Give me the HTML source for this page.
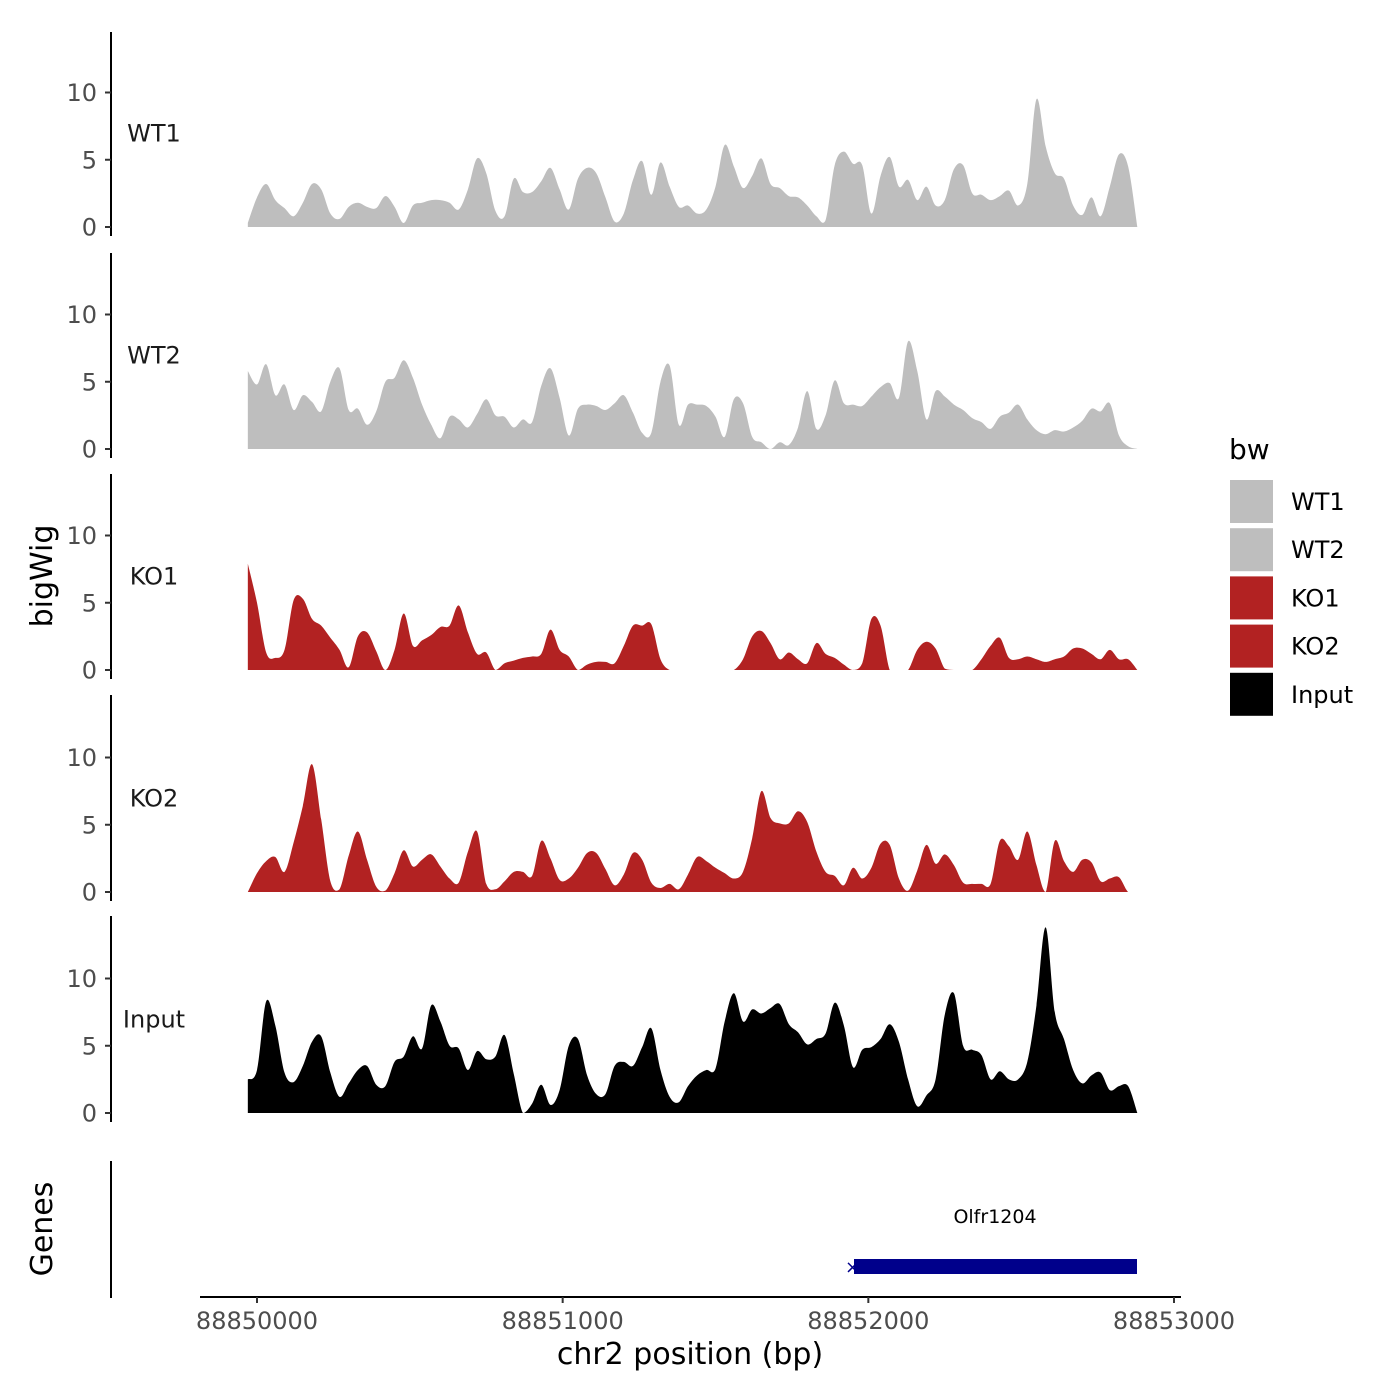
<!DOCTYPE html>
<html><head><meta charset="utf-8"><style>
html,body{margin:0;padding:0;background:#fff;}
svg{display:block;font-family:"DejaVu Sans","Liberation Sans",sans-serif;}
</style></head><body>
<svg id="chart" width="1400" height="1400" viewBox="0 0 1400 1400" xmlns="http://www.w3.org/2000/svg">
<rect width="1400" height="1400" fill="#fff"/>
<g id="tracks"></g>
<g id="xaxis"></g>
<text x="52" y="576" font-size="30" text-anchor="middle" transform="rotate(-90 52 576)">bigWig</text>
<text x="52" y="1229" font-size="30" text-anchor="middle" transform="rotate(-90 52 1229)">Genes</text>
<line x1="111" y1="1161" x2="111" y2="1298" stroke="#000" stroke-width="2"/>
<g>
<rect x="854" y="1259" width="283" height="15" fill="#00008b"/>
<text x="845" y="1273" font-size="18" fill="#00008b">×</text>
<text x="995" y="1223" font-size="19" text-anchor="middle">Olfr1204</text>
</g>
<g id="legend">
<text x="1229" y="459" font-size="28">bw</text>
</g>
</svg>
<script>
const positions = [];
for (let i = 0; i < 98; i++) positions.push(88849970 + 30 * i);
const trackNames = ["WT1", "WT2", "KO1", "KO2", "Input"];
const trackColors = ["#bebebe", "#bebebe", "#b22222", "#b22222", "#000000"];
const wt1Values = [0.3,2.2,3.2,2.0,1.4,0.8,1.8,3.2,2.8,1.0,0.6,1.5,1.8,1.5,1.4,2.3,1.5,0.3,1.6,1.8,2.0,2.0,1.8,1.3,2.8,5.1,4.0,1.2,0.8,3.6,2.6,2.6,3.4,4.4,2.8,1.3,3.6,4.4,4.0,2.2,0.4,1.0,3.5,4.9,2.4,4.8,3.0,1.5,1.6,1.0,1.3,3.0,6.1,4.5,2.9,3.8,5.1,3.2,2.9,2.3,2.2,1.6,0.8,0.5,4.6,5.6,4.7,4.6,1.0,3.8,5.2,3.0,3.5,2.0,3.0,1.6,2.0,4.3,4.6,2.5,2.4,2.0,2.3,2.7,1.6,3.2,9.5,6.0,4.0,3.6,1.6,0.9,2.2,0.8,3.0,5.4,4.5,0];
const wt2Values = [5.8,4.8,6.3,4.0,4.8,2.9,4.0,3.5,2.8,5.0,6.0,2.9,3.0,1.8,2.8,5.0,5.3,6.6,5.3,3.3,1.8,0.8,2.4,2.2,1.6,2.6,3.7,2.5,2.4,1.6,2.2,2.0,4.7,6.0,3.8,1.0,3.0,3.3,3.2,2.9,3.4,4.0,2.7,1.2,1.2,5.0,6.2,1.8,3.3,3.3,3.2,2.4,0.9,3.7,3.4,0.9,0.5,0,0.5,0.3,1.6,4.3,1.5,2.5,5.1,3.4,3.3,3.2,3.9,4.6,4.9,3.8,8.0,5.8,2.2,4.3,3.9,3.3,2.9,2.3,2.0,1.5,2.4,2.7,3.3,2.2,1.4,1.1,1.4,1.3,1.6,2.1,3.0,2.8,3.4,1.0,0.2,0];
const ko1Values = [7.9,5.0,1.3,0.9,1.5,5.2,5.3,3.8,3.3,2.4,1.5,0.2,2.5,2.8,1.4,0,1.5,4.2,1.8,2.2,2.6,3.2,3.3,4.8,2.8,1.2,1.3,0,0.5,0.7,0.9,1.0,1.2,3.0,1.5,1.0,0,0.4,0.6,0.6,0.5,1.8,3.3,3.3,3.4,0.8,0,0,0,0,0,0,0,0,0.8,2.5,2.9,2.0,0.8,1.3,0.8,0.5,2.0,1.2,0.9,0.4,0,0.5,3.8,3.3,0,0,0,1.5,2.1,1.6,0.1,0,0,0,0.8,1.8,2.4,0.9,0.8,1.0,0.8,0.6,0.8,1.0,1.6,1.6,1.2,0.8,1.5,0.8,0.8,0];
const ko2Values = [0,1.4,2.3,2.6,1.5,3.7,6.4,9.5,5.4,0.8,0.2,2.7,4.5,2.4,0.4,0.1,1.4,3.1,1.9,2.4,2.8,1.9,1.0,0.7,3.0,4.5,0.6,0.2,0.8,1.5,1.5,1.2,3.8,2.5,0.9,1.0,1.8,2.9,2.9,1.7,0.5,1.3,2.9,2.4,0.7,0.3,0.6,0.2,1.3,2.6,2.3,1.8,1.4,1.0,1.5,4.0,7.5,5.5,5.1,5.1,6.0,5.2,3.0,1.5,1.2,0.5,1.8,1.0,1.8,3.6,3.5,1.0,0.1,1.6,3.5,2.1,2.8,2.0,0.7,0.6,0.6,0.6,3.8,3.4,2.4,4.5,2.0,0,3.8,2.3,1.5,2.4,2.2,0.8,1.0,1.1,0,0];
const inputValues = [2.5,3.2,8.3,6.5,3.0,2.3,3.5,5.3,5.7,3.0,1.2,2.2,3.2,3.5,2.1,2.0,3.8,4.2,5.7,4.8,8.0,6.8,5.0,4.8,3.2,4.6,4.0,4.2,5.8,2.9,0,0.7,2.1,0.6,1.7,5.0,5.5,2.8,1.4,1.4,3.5,3.8,3.5,4.9,6.3,3.2,1.2,0.8,2.0,2.8,3.2,3.3,6.8,8.9,6.8,7.7,7.4,7.8,8.1,6.6,6.0,5.1,5.5,5.9,8.2,6.5,3.4,4.7,4.9,5.5,6.6,5.3,2.5,0.5,1.3,2.5,7.3,8.9,5.0,4.7,4.3,2.5,3.1,2.5,2.5,3.8,8.0,13.8,7.5,5.5,3.2,2.2,2.8,3.0,1.7,2.0,2.0,0];
const yTicks = [0, 5, 10];
const xTicks = [88850000, 88851000, 88852000, 88853000];

const seriesList = [wt1Values, wt2Values, ko1Values, ko2Values, inputValues];
const NS = "http://www.w3.org/2000/svg";
function xScale(bp) { return 257 + (bp - 88850000) * 0.30567; }
const panelZero = [227, 449, 670, 892, 1113];
const panelTop = [32, 253, 474, 695, 916];
function yScale(p, v) { return panelZero[p] - v * 13.45; }
function mk(tag, attrs, parent) {
  const e = document.createElementNS(NS, tag);
  for (const k in attrs) e.setAttribute(k, attrs[k]);
  parent.appendChild(e);
  return e;
}
const tracksG = document.getElementById("tracks");
for (let p = 0; p < 5; p++) {
  const g = mk("g", {}, tracksG);
  
  
  const vals = seriesList[p];
  const pts = positions.map((bp, i) => [xScale(bp), yScale(p, vals[i])]);
  const z = panelZero[p];
  let d = "M" + pts[0][0] + "," + z + " L" + pts[0][0] + "," + pts[0][1];
  for (let i = 0; i < pts.length - 1; i++) {
    const p0 = pts[Math.max(0, i - 1)], p1 = pts[i], p2 = pts[i + 1], p3 = pts[Math.min(pts.length - 1, i + 2)];
    const c1x = p1[0] + (p2[0] - p0[0]) / 6, c1y = Math.min(z, p1[1] + (p2[1] - p0[1]) / 6);
    const c2x = p2[0] - (p3[0] - p1[0]) / 6, c2y = Math.min(z, p2[1] - (p3[1] - p1[1]) / 6);
    d += " C" + c1x + "," + c1y + " " + c2x + "," + c2y + " " + p2[0] + "," + p2[1];
  }
  d += " L" + pts[pts.length - 1][0] + "," + z + " Z";
  const area = mk("path", { d: d, fill: trackColors[p] }, g);
  
  
  const ax = mk("line", { x1: 111, y1: panelTop[p], x2: 111, y2: panelZero[p] + 9, stroke: "#000", "stroke-width": 2 }, g);
  
  
  yTicks.forEach(t => {
    const y = yScale(p, t);
    const tk = mk("line", { x1: 105, y1: y, x2: 111, y2: y, stroke: "#333", "stroke-width": 2 }, g);
    
    
    const lb = mk("text", { x: 97, y: y + 8.5, "font-size": 24, "text-anchor": "end", fill: "#4d4d4d" }, g);
    lb.textContent = t;
    
    
  });
  const tl = mk("text", { x: 154, y: yScale(p, 7) + 8.5, "font-size": 24, "text-anchor": "middle", fill: "#1a1a1a" }, g);
  tl.textContent = trackNames[p];
  
  
}
const xg = document.getElementById("xaxis");
mk("line", { x1: 200, y1: 1297, x2: 1181, y2: 1297, stroke: "#000", "stroke-width": 2 }, xg);
xTicks.forEach(t => {
  const x = xScale(t);
  const tk = mk("line", { x1: x, y1: 1297, x2: x, y2: 1303, stroke: "#333", "stroke-width": 2 }, xg);
  
  
  const lb = mk("text", { x: x, y: 1329, "font-size": 24, "text-anchor": "middle", fill: "#4d4d4d" }, xg);
  lb.textContent = t;
  
  
});
const xt = mk("text", { x: 690, y: 1364, "font-size": 30, "text-anchor": "middle" }, xg);
xt.textContent = "chr2 position (bp)";


const lg = document.getElementById("legend");
trackNames.forEach((n, i) => {
  const y = 479 + i * 48.2;
  const k = mk("rect", { x: 1229, y: y, width: 45, height: 45, fill: trackColors[i], stroke: "#fff", "stroke-width": 2 }, lg);
  
  
  const t = mk("text", { x: 1291, y: y + 31, "font-size": 24 }, lg);
  t.textContent = n;
  
  
});
</script>
</body></html>
